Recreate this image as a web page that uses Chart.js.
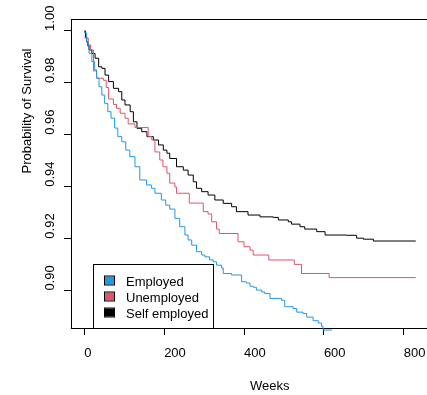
<!DOCTYPE html>
<html>
<head>
<meta charset="utf-8">
<script src="https://cdn.jsdelivr.net/npm/chart.js@4.4.1/dist/chart.umd.min.js"></script>
<style>
  html, body { margin: 0; padding: 0; background: #fff; }
  #wrap { width: 427px; height: 395px; overflow: hidden; }
</style>
</head>
<body>
<div id="wrap"><canvas id="survChart" width="440" height="395"></canvas></div>
<script>
// Kaplan-Meier curves (weeks, survival probability)
const empTimes = [0, 1, 6, 10, 12, 19, 26, 31, 37, 44, 51, 59, 67, 76, 84, 94, 104, 114, 127, 139,
  156, 168, 177, 193, 204, 214, 227, 239, 252, 260, 269, 281, 294, 302, 314, 323, 331, 344, 348, 369,
  394, 406, 415, 423, 431, 444, 452, 465, 494, 502, 523, 532, 548, 557, 573, 586, 594, 598, 620];
const empSurv = [1.0, 0.9992, 0.9959, 0.9946, 0.9914, 0.9882, 0.9850, 0.9818, 0.9785, 0.9753,
  0.9721, 0.9689, 0.9664, 0.9626, 0.9593, 0.9573, 0.9541, 0.9516, 0.9477, 0.9426,
  0.9407, 0.9394, 0.9375, 0.9349, 0.9329, 0.9314, 0.9278, 0.9246, 0.9214, 0.9195,
  0.9175, 0.9150, 0.9137, 0.9130, 0.9118, 0.9111, 0.9098, 0.9087, 0.9066, 0.9060,
  0.9034, 0.9029, 0.9017, 0.9013, 0.9002, 0.8995, 0.8989, 0.8970, 0.8963, 0.8938,
  0.8931, 0.8917, 0.8912, 0.8898, 0.8884, 0.8875, 0.8863, 0.8848, 0.8848];

const unempTimes = [0, 10, 16, 23, 31, 48, 55, 61, 73, 81, 90, 102, 110, 127, 160, 169, 177, 189, 197, 207,
  214, 227, 231, 263, 298, 310, 319, 331, 338, 385, 400, 415, 423, 462, 526, 544, 613, 830];
const unempSurv = [0.9973, 0.9946, 0.9927, 0.9846, 0.9818, 0.9810, 0.9782, 0.9738, 0.9717, 0.9702,
  0.9683, 0.9664, 0.9642, 0.9628, 0.9593, 0.9580, 0.9534, 0.9503, 0.9477, 0.9452,
  0.9414, 0.9399, 0.9375, 0.9337, 0.9304, 0.9295, 0.9265, 0.9237, 0.9220, 0.9188,
  0.9169, 0.9156, 0.9137, 0.9118, 0.9101, 0.9066, 0.9050, 0.9050];

const selfTimes = [0, 3, 6, 9, 12, 19, 27, 36, 44, 52, 61, 73, 86, 94, 102, 115, 123, 132, 144, 157, 173, 186, 198,
  207, 214, 231, 248, 260, 273, 281, 294, 310, 327, 348, 369, 381, 410, 440, 473, 486, 511, 519, 540,
  552, 582, 603, 657, 682, 699, 724, 830];
const selfSurv = [1.0, 0.9975, 0.9958, 0.9942, 0.9927, 0.9913, 0.9895, 0.9862, 0.9856, 0.9830, 0.9805, 0.9779, 0.9766,
  0.9734, 0.9715, 0.9689, 0.9650, 0.9625, 0.9612, 0.9593, 0.9580, 0.9561, 0.9541,
  0.9529, 0.9509, 0.9477, 0.9464, 0.9445, 0.9419, 0.9394, 0.9381, 0.9368, 0.9349,
  0.9336, 0.9323, 0.9304, 0.9291, 0.9284, 0.9282, 0.9272, 0.9265, 0.9256, 0.9246,
  0.9237, 0.9227, 0.9214, 0.9213, 0.9202, 0.9198, 0.9191, 0.9191];

const groupNames = ['Employed', 'Unemployed', 'Self employed'];
const groupColors = ['#2297E6', '#DF536B', '#000000'];
const xTicks = [0, 200, 400, 600, 800];
const yTicks = [0.90, 0.92, 0.94, 0.96, 0.98, 1.00];
const xTitle = 'Weeks';
const yTitle = 'Probability of Survival';

const FONT = '13px "Liberation Sans", Arial, sans-serif';

function toPoints(times, surv) {
  return times.map((t, i) => ({ x: t, y: surv[i] }));
}

// R-like box, left-adjusted labels and legend
const rPlot = {
  id: 'rPlot',
  beforeDatasetsDraw(chart) {
    const { ctx, chartArea: a } = chart;
    ctx.save();
    ctx.strokeStyle = '#000';
    ctx.lineWidth = 1;
    ctx.strokeRect(a.left + 0.5, a.top + 0.5, a.right - a.left, a.bottom - a.top);
    ctx.restore();
  },
  afterDraw(chart) {
    const { ctx, chartArea: a, scales } = chart;
    ctx.save();
    ctx.font = FONT;
    ctx.fillStyle = '#000';
    ctx.textAlign = 'left';
    ctx.textBaseline = 'alphabetic';

    // x tick labels
    xTicks.forEach(v => {
      ctx.fillText(String(v), scales.x.getPixelForValue(v), 357);
    });
    // y tick labels, rotated
    yTicks.forEach(v => {
      ctx.save();
      ctx.translate(53.5, scales.y.getPixelForValue(v));
      ctx.rotate(-Math.PI / 2);
      ctx.fillText(v.toFixed(2), 0, 0);
      ctx.restore();
    });
    // axis titles
    ctx.fillText(xTitle, (a.left + a.right) / 2, 389.5);
    ctx.save();
    ctx.translate(30.5, (a.top + a.bottom) / 2);
    ctx.rotate(-Math.PI / 2);
    ctx.fillText(yTitle, 0, 0);
    ctx.restore();

    // legend
    const lx = 93.5, ly = 264.5, lw = 120, lh = a.bottom - 264;
    ctx.fillStyle = '#fff';
    ctx.fillRect(lx, ly, lw, lh);
    ctx.strokeStyle = '#000';
    ctx.lineWidth = 1;
    ctx.strokeRect(lx, ly, lw, lh);
    chart.data.datasets.forEach((ds, i) => {
      const cy = 280.5 + i * 16;
      ctx.fillStyle = ds.borderColor;
      ctx.fillRect(105, cy - 4, 9, 8);
      ctx.strokeStyle = '#000';
      ctx.strokeRect(104.5, cy - 4.5, 10, 9);
      ctx.fillStyle = '#000';
      ctx.fillText(ds.label, 126, cy + 5);
    });
    ctx.restore();
  }
};

const series = [
  toPoints(empTimes, empSurv),
  toPoints(unempTimes, unempSurv),
  toPoints(selfTimes, selfSurv)
];

new Chart(document.getElementById('survChart').getContext('2d'), {
  type: 'line',
  data: {
    datasets: series.map((pts, i) => ({
      label: groupNames[i],
      data: pts,
      borderColor: groupColors[i],
      backgroundColor: groupColors[i],
      borderWidth: 1,
      pointRadius: 0,
      stepped: 'before',
      fill: false,
      clip: { left: 0, top: 0, right: 0, bottom: 3 }
    }))
  },
  options: {
    responsive: false,
    animation: false,
    devicePixelRatio: 1,
    layout: { padding: { top: 19, right: 11, left: 0, bottom: 0 } },
    plugins: { legend: { display: false }, tooltip: { enabled: false } },
    scales: {
      x: {
        type: 'linear',
        min: -33.2,
        max: 863.2,
        afterBuildTicks: s => { s.ticks = xTicks.map(v => ({ value: v })); },
        afterFit: s => { s.height = 67; },
        ticks: { display: false },
        border: { display: false },
        grid: { drawOnChartArea: false, drawTicks: true, tickLength: 7, color: '#000', lineWidth: 1 }
      },
      y: {
        type: 'linear',
        min: 0.8856,
        max: 1.0046,
        afterBuildTicks: s => { s.ticks = yTicks.map(v => ({ value: v })); },
        afterFit: s => { s.width = 71; },
        ticks: { display: false },
        border: { display: false },
        grid: { drawOnChartArea: false, drawTicks: true, tickLength: 7, color: '#000', lineWidth: 1 }
      }
    }
  },
  plugins: [rPlot]
});
</script>
</body>
</html>
